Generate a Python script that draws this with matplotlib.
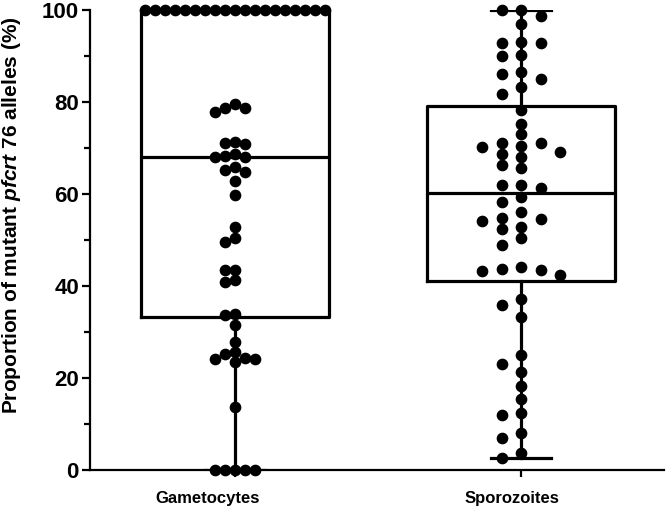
import numpy as np
import matplotlib
matplotlib.use("Agg")
import matplotlib.pyplot as plt
from matplotlib.transforms import ScaledTranslation

plt.rcParams["font.family"] = ["Liberation Sans", "DejaVu Sans"]
plt.rcParams["mathtext.fontset"] = "custom"
plt.rcParams["mathtext.rm"] = "Liberation Sans:bold"
plt.rcParams["mathtext.bfit"] = "Liberation Sans:italic:bold"

groups = ["Gametocytes", "Sporozoites"]

gametocytes = [100] * 19 + [
    79.6, 78.8, 78.8, 77.8, 71.4, 71.0, 70.8, 68.7, 68.3, 68.1, 68.1,
    65.9, 65.2, 64.7, 62.9, 59.8, 52.8, 50.4, 49.5, 43.5, 43.5, 41.2, 40.9,
    33.9, 33.8, 31.5, 27.9, 25.6, 25.2, 24.3, 24.1, 24.1, 23.5, 13.6,
    0, 0, 0, 0, 0,
]

sporozoites = [
    100, 100, 98.8, 97.0, 93.0, 92.9, 92.8, 90.2, 90.0, 86.5, 86.1, 85.1,
    83.2, 81.7, 78.3, 75.2, 73.0, 71.0, 71.0, 70.4, 70.3, 69.1, 68.7, 68.1,
    66.2, 65.7, 62.0, 62.0, 61.2, 59.3, 58.3, 56.1, 54.7, 54.6, 54.1, 52.8,
    52.3, 50.4, 48.9, 44.1, 43.8, 43.5, 43.2, 42.3, 37.1, 35.9, 33.3, 25.0,
    23.0, 21.3, 18.3, 15.4, 12.3, 11.9, 8.0, 7.0, 3.8, 2.7,
]

fig = plt.figure(figsize=(6.66, 5.26), dpi=100)
ax = fig.add_axes([90 / 666, 1 - 470 / 526, 574 / 666, 460 / 526])
ax.set_xlim(0.493, 2.50)
ax.set_ylim(0, 100)

# box stats (min-max whiskers, GraphPad style quartiles)
stats = []
for name, vals in zip(groups, [gametocytes, sporozoites]):
    v = np.array(vals)
    q1, med, q3 = np.percentile(v, [25, 50, 75], method="weibull")
    stats.append(dict(label=name, med=med, q1=q1, q3=q3,
                      whislo=v.min(), whishi=v.max(), fliers=[]))

lw = 2.3
ax.bxp(stats, positions=[1, 2], widths=0.655, showfliers=False,
       boxprops=dict(color="black", linewidth=lw),
       medianprops=dict(color="black", linewidth=lw),
       whiskerprops=dict(color="black", linewidth=lw),
       capprops=dict(color="black", linewidth=lw),
       capwidths=0.21, manage_ticks=False, zorder=2)

# beeswarm layout in pixel space
d = 10.0
px_x = ax.transData.transform((1, 0))[0] - ax.transData.transform((0, 0))[0]
for pos, vals, step in zip([1, 2], [gametocytes, sporozoites], [10.0, 19.5]):
    placed = []
    xs, ys = [], []
    for v in sorted(vals, reverse=True):
        yp = ax.transData.transform((0, v))[1]
        k = 0
        while True:
            off = ((k + 1) // 2) * step * (-1 if k % 2 else 1) if k else 0.0
            if all((off - px) ** 2 + (yp - py) ** 2 >= (0.95 * d) ** 2 for px, py in placed):
                break
            k += 1
        placed.append((off, yp))
        xs.append(pos + off / px_x)
        ys.append(v)
    ax.plot(xs, ys, "o", color="black", markersize=7.4, clip_on=False, zorder=3)

for s in ["top", "right"]:
    ax.spines[s].set_visible(False)
for s in ["left", "bottom"]:
    ax.spines[s].set_linewidth(1.6)

ax.set_yticks(np.arange(0, 101, 20))
ax.set_yticks(np.arange(10, 100, 20), minor=True)
ax.tick_params(axis="y", which="major", length=6, width=1.6, labelsize=16, pad=2)
ax.tick_params(axis="y", which="minor", length=4, width=1.6)
for t in ax.get_yticklabels():
    t.set_fontweight("bold")

ax.set_xticks([1, 2])
ax.set_xticklabels(groups, fontsize=12, fontweight="bold")
ax.tick_params(axis="x", length=5, width=1.6, pad=10)
for t, dx in zip(ax.get_xticklabels(), [-27, -9]):
    t.set_transform(t.get_transform() + ScaledTranslation(dx / 100, 0, fig.dpi_scale_trans))

ax.set_ylabel(r"Proportion of mutant $\mathbfit{pfcrt}$ 76 alleles (%)",
              fontsize=15, fontweight="bold")
ax.yaxis.set_label_coords(-0.117, 0.554)

fig.savefig("out.png", dpi=100)
